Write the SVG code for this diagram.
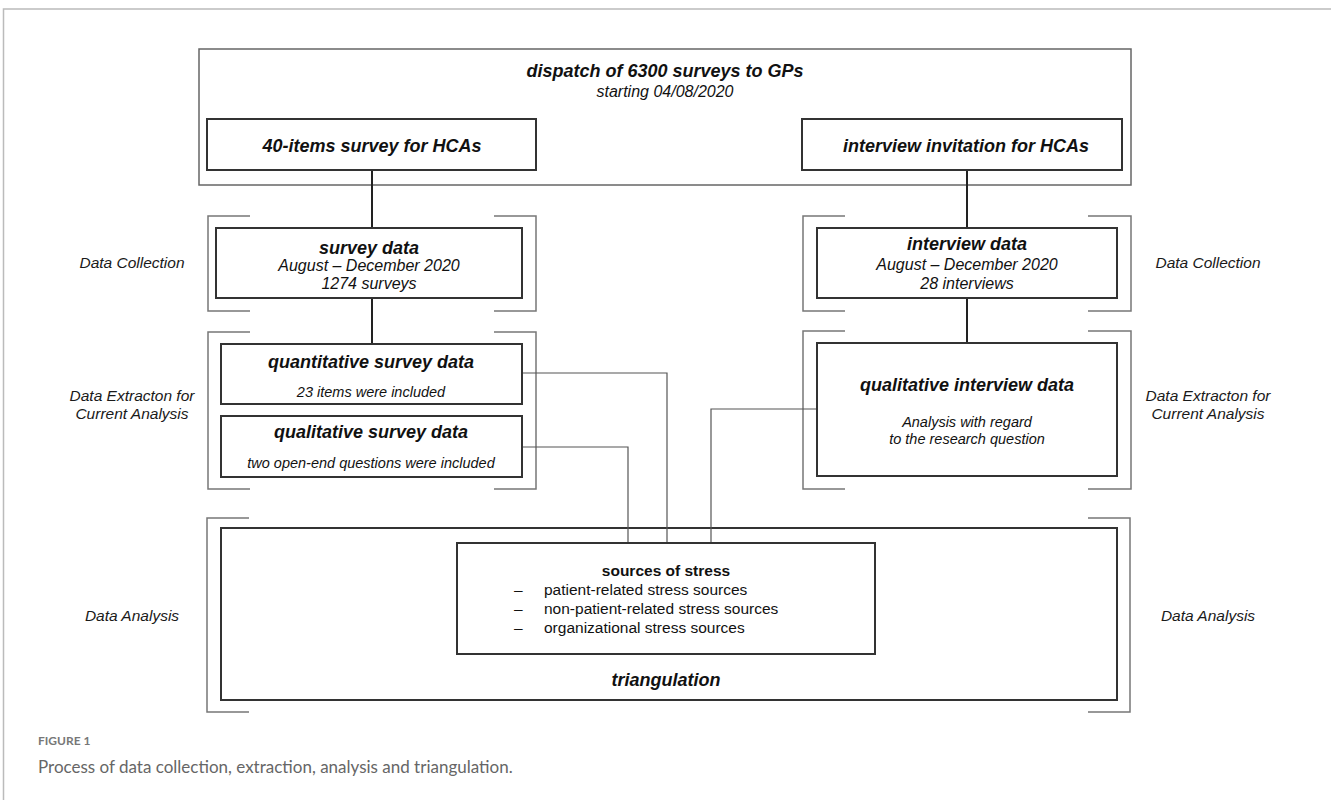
<svg xmlns="http://www.w3.org/2000/svg" width="1331" height="800" viewBox="0 0 1331 800">
<style>
text{font-family:"Liberation Sans",Arial,sans-serif;fill:#111}
.t{font-size:18px;font-weight:bold;font-style:italic;text-anchor:middle}
.d{font-size:16px;font-style:italic;text-anchor:middle}
.s{font-size:14.5px;font-style:italic;text-anchor:middle}
.l{font-size:15.5px;font-style:italic;text-anchor:middle;fill:#1a1a1a}
.li{font-size:15.5px}
.box{fill:#fff;stroke:#333;stroke-width:2}
.outer{fill:none;stroke:#666;stroke-width:1.5}
.br{fill:none;stroke:#777;stroke-width:1.5}
.frame{fill:none;stroke:#bbb;stroke-width:1.5}
.thick{fill:none;stroke:#222;stroke-width:2}
.thin{fill:none;stroke:#555;stroke-width:1.2}
.cap{font-family:Lato,"Open Sans",sans-serif;fill:#666}
</style>
<rect width="1331" height="800" fill="#fff"/>
<path class="frame" d="M3.5,800 V9 H1331"/>

<g id="brackets">
<path class="br" d="M250,216 H208 V311 H250 M494,216 H536 V311 H494"/>
<path class="br" d="M250,332 H208 V489 H250 M494,332 H536 V489 H494"/>
<path class="br" d="M845,216 H803 V311 H845 M1088,216 H1131 V311 H1088"/>
<path class="br" d="M845,331 H803 V489 H845 M1088,331 H1131 V489 H1088"/>
<path class="br" d="M249,518 H207 V712 H249 M1088,518 H1130 V712 H1088"/>
</g>

<g id="dispatch">
<rect class="outer" x="199" y="49" width="932" height="136"/>
<text class="t" x="665" y="77">dispatch of 6300 surveys to GPs</text>
<text class="d" x="665" y="97">starting 04/08/2020</text>
</g>

<g id="triangulation">
<rect class="box" x="221" y="528" width="896" height="172"/>
<text class="t" x="666" y="686">triangulation</text>
</g>

<g id="connectors">
<path class="thick" d="M372,170 V228 M372,298 V344 M967,170 V228 M967,298 V343"/>
<path class="thin" d="M522,373 H667 V543 M522,447 H628 V543 M817,409 H711 V543"/>
</g>

<g id="survey40">
<rect class="box" x="207" y="119" width="329" height="51"/>
<text class="t" x="372" y="152">40-items survey for HCAs</text>
</g>
<g id="invitation">
<rect class="box" x="802" y="119" width="320" height="51"/>
<text class="t" x="966" y="152">interview invitation for HCAs</text>
</g>

<g id="surveydata">
<rect class="box" x="216" y="228" width="306" height="70"/>
<text class="t" x="369" y="254">survey data</text>
<text class="d" x="369" y="271">August – December 2020</text>
<text class="d" x="369" y="289">1274 surveys</text>
</g>
<g id="interviewdata">
<rect class="box" x="817" y="228" width="300" height="70"/>
<text class="t" x="967" y="250">interview data</text>
<text class="d" x="967" y="270">August – December 2020</text>
<text class="d" x="967" y="289">28 interviews</text>
</g>

<g id="quant">
<rect class="box" x="221" y="344" width="301" height="60"/>
<text class="t" x="371" y="368">quantitative survey data</text>
<text class="s" x="371" y="397">23 items were included</text>
</g>
<g id="qualsurvey">
<rect class="box" x="221" y="416" width="301" height="61"/>
<text class="t" x="371" y="438">qualitative survey data</text>
<text class="s" x="371" y="468">two open-end questions were included</text>
</g>
<g id="qualinterview">
<rect class="box" x="817" y="343" width="300" height="133"/>
<text class="t" x="967" y="391">qualitative interview data</text>
<text class="s" x="967" y="427">Analysis with regard</text>
<text class="s" x="967" y="444">to the research question</text>
</g>

<g id="sources">
<rect class="box" x="457" y="543" width="418" height="111"/>
<text x="666" y="576" style="font-size:15.5px;font-weight:bold;text-anchor:middle">sources of stress</text>
<text class="li" x="514" y="595">–</text><text class="li" x="544" y="595">patient-related stress sources</text>
<text class="li" x="514" y="614">–</text><text class="li" x="544" y="614">non-patient-related stress sources</text>
<text class="li" x="514" y="633">–</text><text class="li" x="544" y="633">organizational stress sources</text>
</g>

<g id="labels">
<text class="l" x="132" y="268">Data Collection</text>
<text class="l" x="132" y="401">Data Extracton for</text>
<text class="l" x="132" y="419">Current Analysis</text>
<text class="l" x="132" y="621">Data Analysis</text>
<text class="l" x="1208" y="268">Data Collection</text>
<text class="l" x="1208" y="401">Data Extracton for</text>
<text class="l" x="1208" y="419">Current Analysis</text>
<text class="l" x="1208" y="621">Data Analysis</text>
</g>

<g id="caption">
<text class="cap" x="38" y="745" style="font-size:12px;font-weight:bold;fill:#777">FIGURE 1</text>
<text class="cap" x="38" y="773" style="font-size:17px;fill:#666">Process of data collection, extraction, analysis and triangulation.</text>
</g>
</svg>
